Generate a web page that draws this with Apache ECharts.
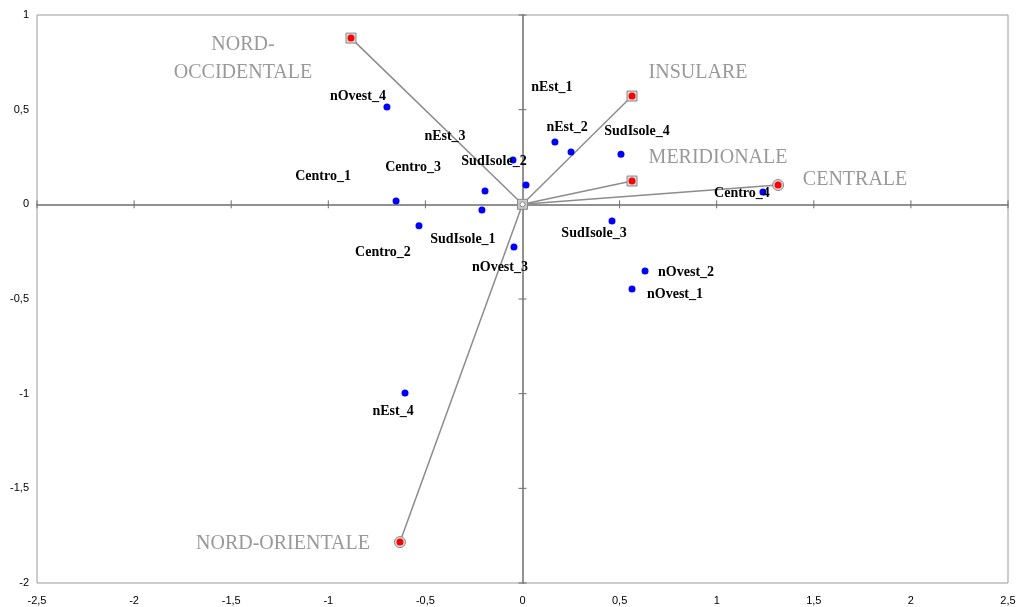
<!DOCTYPE html>
<html>
<head>
<meta charset="utf-8">
<script src="https://cdn.jsdelivr.net/npm/echarts@6/dist/echarts.min.js"></script>
<style>
  html, body { margin: 0; padding: 0; background: #fff; }
  #chart { width: 1016px; height: 607px; }
</style>
</head>
<body>
<div id="chart"></div>
<script>
// regioni (vettori)
const regionNames = ['NORD-\nOCCIDENTALE', 'INSULARE', 'MERIDIONALE', 'CENTRALE', 'NORD-ORIENTALE'];
const regionX = [-0.883, 0.564, 0.564, 1.316, -0.631];
const regionY = [0.878, 0.572, 0.123, 0.102, -1.784];

// punti (modalità)
const pointNames = ['nOvest_4', 'SudIsole_2', 'nEst_3', 'Centro_3', 'Centro_1', 'SudIsole_1', 'nEst_1', 'nEst_2',
  'SudIsole_4', 'Centro_4', 'Centro_2', 'nOvest_3', 'SudIsole_3', 'nOvest_2', 'nOvest_1', 'nEst_4'];
const pointX = [-0.698, -0.049, 0.018, -0.193, -0.651, -0.209, 0.167, 0.250,
  0.507, 1.238, -0.533, -0.044, 0.461, 0.631, 0.564, -0.605];
const pointY = [0.514, 0.234, 0.102, 0.070, 0.017, -0.030, 0.329, 0.276,
  0.265, 0.065, -0.113, -0.225, -0.088, -0.352, -0.447, -0.997];

// assi
const xTicks = [-2.5, -2, -1.5, -1, -0.5, 0, 0.5, 1, 1.5, 2, 2.5];
const yTicks = [-2, -1.5, -1, -0.5, 0, 0.5, 1];

// posizione etichette (pixel, rispetto al punto)
const pointLabelOffsets = [[-29, -11], [-19, 1], [-81, -49], [-72, -24], [-73, -25], [-19, 29], [-3, -55], [-4, -25],
  [16, -23], [-21, 1], [-36, 27], [-14, 20], [-18, 12], [41, 1], [43, 5], [-12, 18]];
const regionLabelOffsets = [[-108, 21], [66, -23], [86, -23], [77, -5], [-117, 2]];
const regionRound = ['CENTRALE', 'NORD-ORIENTALE'];

const fmt = v => String(v).replace('.', ',');
const axisColor = '#6e6e6e';

function baseAxis(ticks) {
  return {
    type: 'value', min: ticks[0], max: ticks[ticks.length - 1],
    interval: ticks[1] - ticks[0], splitLine: { show: false }
  };
}

let xAxes = [
  Object.assign(baseAxis(xTicks), {
    position: 'bottom',
    axisLine: { show: false, onZero: false },
    axisTick: { show: false },
    axisLabel: { margin: 12, fontFamily: 'Liberation Sans', fontSize: 11, color: '#000', formatter: fmt }
  }),
  Object.assign(baseAxis(xTicks), {
    position: 'bottom',
    axisLine: { show: true, onZero: true, onZeroAxisIndex: 1, lineStyle: { color: axisColor, width: 1.5 } },
    axisTick: { show: false },
    axisLabel: { show: false }
  })
];
let yAxes = [
  Object.assign(baseAxis(yTicks), {
    position: 'left',
    axisLine: { show: false, onZero: false },
    axisTick: { show: false },
    axisLabel: { margin: 8, fontFamily: 'Liberation Sans', fontSize: 11, color: '#000', formatter: fmt }
  }),
  Object.assign(baseAxis(yTicks), {
    position: 'left',
    axisLine: { show: true, onZero: true, onZeroAxisIndex: 1, lineStyle: { color: axisColor, width: 1.5 } },
    axisTick: { show: false },
    axisLabel: { show: false }
  })
];

let series = [];

// tacche a croce sugli assi per lo zero
series.push({
  type: 'custom', silent: true, z: 1,
  data: xTicks.map(v => [v, 0, 'x']).concat(yTicks.map(v => [0, v, 'y'])),
  renderItem: function (params, api) {
    const p = api.coord([api.value(0), api.value(1)]);
    const horiz = api.value(2) === 'y';
    const x1 = horiz ? p[0] - 4 : p[0], x2 = horiz ? p[0] + 4 : p[0];
    const y1 = horiz ? p[1] : p[1] - 4, y2 = horiz ? p[1] : p[1] + 4;
    return {
      type: 'line',
      shape: { x1: x1, y1: y1, x2: x2, y2: y2 },
      style: { stroke: axisColor, lineWidth: 1 }
    };
  },
  encode: { x: 0, y: 1 }
});

// segmenti dall'origine
regionNames.forEach((n, i) => {
  series.push({
    type: 'line',
    data: [[0, 0], [regionX[i], regionY[i]]],
    symbol: 'none',
    silent: true,
    z: 2,
    lineStyle: { color: '#8c8c8c', width: 1.5 }
  });
});

// origine
series.push({
  type: 'scatter', silent: true, z: 3,
  data: [[0, 0]], symbol: 'rect', symbolSize: 10,
  itemStyle: { color: '#c8c8c8', borderColor: '#8a8a8a', borderWidth: 1, opacity: 1 }
});
series.push({
  type: 'scatter', silent: true, z: 4,
  data: [[0, 0]], symbol: 'circle', symbolSize: 5,
  itemStyle: { color: '#ffffff', borderColor: '#8a8a8a', borderWidth: 1, opacity: 1 }
});

// marcatori regioni
series.push({
  type: 'scatter', silent: true, z: 3,
  data: regionNames.map((n, i) => ({
    value: [regionX[i], regionY[i]],
    symbol: regionRound.indexOf(n) >= 0 ? 'circle' : 'rect',
    symbolSize: regionRound.indexOf(n) >= 0 ? 11 : 10
  })),
  itemStyle: { color: '#d8d8d8', borderColor: '#8a8a8a', borderWidth: 1, opacity: 1 }
});
series.push({
  type: 'scatter', silent: true, z: 4,
  data: regionNames.map((n, i) => ({
    value: [regionX[i], regionY[i]],
    name: n,
    label: { offset: regionLabelOffsets[i] }
  })),
  symbol: 'circle', symbolSize: 7,
  itemStyle: { color: '#ff0000', opacity: 1 },
  label: {
    show: true, position: 'inside', formatter: p => p.name,
    fontFamily: 'Liberation Serif', fontSize: 20, color: '#999999',
    align: 'center', verticalAlign: 'middle', lineHeight: 28
  }
});

// punti
series.push({
  type: 'scatter', silent: true, z: 5,
  data: pointNames.map((n, i) => ({
    value: [pointX[i], pointY[i]],
    name: n,
    label: { offset: pointLabelOffsets[i] }
  })),
  symbol: 'circle', symbolSize: 7,
  itemStyle: { color: '#0000ff', opacity: 1 },
  label: {
    show: true, position: 'inside', formatter: p => p.name,
    fontFamily: 'Liberation Serif', fontWeight: 'bold', fontSize: 14, color: '#000',
    align: 'center', verticalAlign: 'middle'
  }
});

let myChart = echarts.init(document.getElementById('chart'));
myChart.setOption({
  animation: false,
  grid: {
    left: 37, right: 8, top: 15, bottom: 24,
    outerBoundsMode: 'none', containLabel: false,
    show: true, borderColor: '#9a9a9a', borderWidth: 1, backgroundColor: '#fff'
  },
  xAxis: xAxes,
  yAxis: yAxes,
  series: series
});
</script>
</body>
</html>
